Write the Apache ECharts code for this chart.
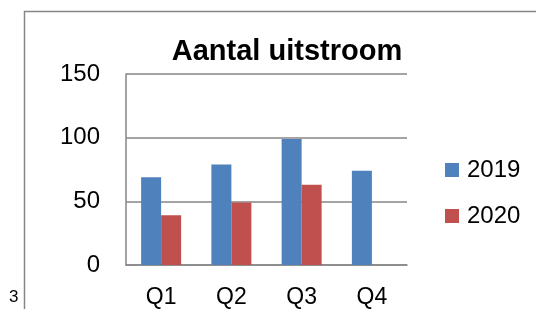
<!DOCTYPE html>
<html>
<head>
<meta charset="utf-8">
<script src="https://cdn.jsdelivr.net/npm/echarts@6/dist/echarts.min.js"></script>
<style>
  html, body { margin: 0; padding: 0; background: #fff; }
  #chart { width: 536px; height: 309px; }
</style>
</head>
<body>
<div id="chart"></div>
<script>
// data
var quarters = ['Q1', 'Q2', 'Q3', 'Q4'];
var values2019 = [69, 79, 99, 74];
var values2020 = [39, 49, 63, null];
var seriesNames = ['2019', '2020'];

var chart = echarts.init(document.getElementById('chart'));

var option = {
  animation: false,
  textStyle: { fontFamily: 'Liberation Sans, Arial, sans-serif' },
  title: {
    text: 'Aantal uitstroom',
    left: 282,
    textAlign: 'center',
    top: 32,
    textStyle: { fontSize: 29, fontWeight: 'bold', color: '#000' }
  },
  legend: {
    orient: 'vertical',
    left: 445,
    top: 158,
    padding: 0,
    itemWidth: 14,
    itemHeight: 14,
    itemGap: 22,
    icon: 'rect',
    textStyle: { fontSize: 24, color: '#000', lineHeight: 23, padding: [0, 0, 0, 3] },
    data: seriesNames
  },
  grid: { left: 126, right: 129, top: 74, bottom: 43 },
  xAxis: {
    type: 'category',
    data: quarters,
    axisLine: { lineStyle: { color: '#868686', width: 1.5 } },
    axisTick: { show: false },
    axisLabel: { fontSize: 23, color: '#000', margin: 21 }
  },
  yAxis: {
    type: 'value',
    min: 0,
    max: 150,
    interval: 50,
    axisLine: { show: true, lineStyle: { color: '#868686', width: 1.5 } },
    axisTick: { show: false },
    splitLine: { lineStyle: { color: '#868686', width: 1.5 } },
    axisLabel: { fontSize: 24, color: '#000', margin: 26 }
  },
  series: [
    {
      name: seriesNames[0],
      type: 'bar',
      barWidth: 20,
      barGap: '0%',
      itemStyle: { color: '#4F81BD' },
      data: values2019
    },
    {
      name: seriesNames[1],
      type: 'bar',
      barWidth: 20,
      itemStyle: { color: '#C0504D' },
      data: values2020
    }
  ],
  graphic: [
    // frame of the chart box, partly visible
    { type: 'polyline', silent: true, shape: { points: [[24.5, 309], [24.5, 11.5], [536, 11.5]] },
      style: { stroke: '#868686', lineWidth: 1.5, fill: null } },
    { type: 'text', left: 9, top: 289, style: { text: '3', fontSize: 17, fill: '#000', fontFamily: 'Liberation Sans, Arial, sans-serif' } }
  ]
};

chart.setOption(option);
</script>
</body>
</html>
